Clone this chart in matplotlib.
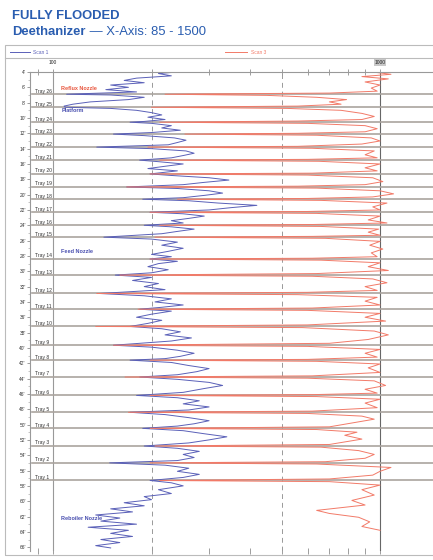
import matplotlib.pyplot as plt
from matplotlib.lines import Line2D
from matplotlib.patches import Rectangle
from matplotlib.ticker import NullFormatter

W, H = 433, 560

# elevation of each tray line (ft, from top of scan)
tray_names = ["Tray 26", "Tray 25", "Tray 24", "Tray 23", "Tray 22", "Tray 21",
              "Tray 20", "Tray 19", "Tray 18", "Tray 17", "Tray 16", "Tray 15",
              "Tray 14", "Tray 13", "Tray 12", "Tray 11", "Tray 10", "Tray 9",
              "Tray 8", "Tray 7", "Tray 6", "Tray 5", "Tray 4", "Tray 3",
              "Tray 2", "Tray 1"]
tray_ft = [6.9, 8.6, 10.55, 12.1, 13.8, 15.5, 17.3, 19.0, 20.6, 22.3, 24.0, 25.55,
           28.4, 30.5, 32.9, 34.95, 37.2, 39.65, 41.6, 43.8, 46.2, 48.4, 50.5,
           52.8, 55.0, 57.3]

depth_ticks = list(range(4, 67, 2))

# Scan 1 (blue)
scan1_ft = [4.0, 4.2, 4.5, 4.8, 5.1, 5.4, 5.7, 6.0, 6.3, 6.6, 6.85, 6.9, 7.0, 7.3,
            7.6, 7.9, 8.2, 8.45, 8.6, 8.75, 9.0, 9.3, 9.6, 9.9, 10.2, 10.45, 10.55,
            10.7, 11.0, 11.3, 11.6, 11.9, 12.1, 12.3, 12.6, 12.9, 13.2, 13.5, 13.8,
            14.0, 14.3, 14.6, 14.9, 15.2, 15.5, 15.7, 16.0, 16.3, 16.6, 16.9, 17.3,
            17.5, 17.8, 18.1, 18.4, 18.7, 19.0, 19.2, 19.5, 19.8, 20.1, 20.4, 20.6,
            20.8, 21.1, 21.4, 21.7, 22.0, 22.3, 22.5, 22.8, 23.1, 23.4, 23.7, 24.0,
            24.2, 24.5, 24.8, 25.1, 25.55, 25.8, 26.2, 26.6, 27.0, 27.4, 27.8, 28.1,
            28.4, 28.7, 29.0, 29.4, 29.8, 30.2, 30.5, 30.8, 31.2, 31.6, 32.0, 32.4,
            32.9, 33.2, 33.6, 34.0, 34.4, 34.7, 34.95, 35.2, 35.6, 36.0, 36.4, 36.8,
            37.2, 37.5, 37.9, 38.3, 38.7, 39.1, 39.65, 39.9, 40.3, 40.7, 41.1, 41.4,
            41.6, 41.9, 42.3, 42.7, 43.1, 43.5, 43.8, 44.1, 44.5, 44.9, 45.3, 45.8,
            46.2, 46.5, 46.9, 47.3, 47.7, 48.1, 48.4, 48.7, 49.1, 49.5, 49.9, 50.2,
            50.5, 50.8, 51.2, 51.6, 52.0, 52.4, 52.8, 53.1, 53.5, 53.9, 54.3, 54.7,
            55.0, 55.3, 55.7, 56.1, 56.5, 56.9, 57.3, 57.6, 58.0, 58.5, 59.0, 59.4,
            59.8, 60.2, 60.6, 61.0, 61.4, 61.8, 62.2, 62.6, 63.0, 63.4, 63.8, 64.2,
            64.6, 65.0, 65.4, 65.8, 66.1]
scan1_val = [240, 210, 230, 180, 165, 190, 150, 170, 145, 180, 120, 110, 150, 190,
             170, 130, 115, 108, 109, 150, 180, 200, 215, 195, 220, 190, 172,
             200, 230, 215, 245, 200, 153, 190, 235, 255, 240, 225, 136,
             200, 255, 270, 250, 230, 184, 210, 250, 220, 195, 240, 198,
             230, 300, 345, 290, 250, 168, 240, 300, 330, 290, 250, 188,
             260, 320, 420, 350, 300, 198, 250, 290, 260, 230, 250, 190,
             230, 270, 240, 215, 143, 200, 240, 215, 250, 225, 200, 230,
             198, 240, 210, 195, 225, 200, 155, 200, 175, 210, 190, 220,
             139, 190, 230, 205, 250, 215, 184, 230, 200, 180, 215, 195,
             172, 215, 245, 220, 265, 230, 153, 200, 240, 270, 245, 220,
             172, 230, 260, 300, 275, 240, 184, 240, 300, 330, 290, 250,
             180, 240, 280, 250, 300, 260, 172, 220, 260, 300, 270, 240,
             188, 250, 290, 340, 300, 260, 190, 240, 280, 250, 270, 240,
             149, 220, 260, 240, 280, 250, 198, 230, 250, 210, 230, 190,
             200, 165, 190, 150, 175, 135, 160, 140, 180, 128, 170, 150,
             175, 140, 160, 135, 150]

# Scan 3 (red)
scan3_ft = [4.0, 4.3, 4.6, 4.9, 5.3, 5.7, 6.1, 6.5, 6.75, 6.9, 7.05, 7.3, 7.6, 7.9,
            8.2, 8.45, 8.6, 8.75, 9.0, 9.4, 9.8, 10.2, 10.4, 10.55, 10.7, 11.0, 11.4,
            11.8, 12.0, 12.1, 12.25, 12.6, 13.0, 13.4, 13.7, 13.8, 13.95, 14.3, 14.8,
            15.2, 15.4, 15.5, 15.65, 16.0, 16.5, 16.9, 17.2, 17.3, 17.45, 17.8, 18.3,
            18.7, 18.9, 19.0, 19.15, 19.5, 19.9, 20.3, 20.5, 20.6, 20.75, 21.1, 21.6,
            22.0, 22.2, 22.3, 22.45, 22.8, 23.3, 23.7, 23.9, 24.0, 24.15, 24.5, 24.9,
            25.3, 25.45, 25.55, 25.7, 26.1, 26.6, 27.1, 27.6, 28.1, 28.3, 28.4, 28.55,
            28.9, 29.4, 29.9, 30.3, 30.5, 30.65, 31.0, 31.5, 32.0, 32.5, 32.75, 32.9,
            33.05, 33.4, 33.9, 34.4, 34.8, 34.95, 35.1, 35.5, 36.0, 36.5, 37.0, 37.2,
            37.35, 37.8, 38.3, 38.9, 39.4, 39.65, 39.8, 40.2, 40.7, 41.2, 41.5, 41.6,
            41.75, 42.1, 42.6, 43.2, 43.65, 43.8, 43.95, 44.3, 44.9, 45.4, 45.9, 46.1,
            46.2, 46.35, 46.7, 47.2, 47.8, 48.25, 48.4, 48.55, 48.9, 49.3, 49.8, 50.3,
            50.5, 50.65, 51.0, 51.4, 51.9, 52.6, 52.8, 52.95, 53.4, 53.9, 54.4, 54.85,
            55.0, 55.15, 55.6, 56.1, 56.6, 57.1, 57.3, 57.45, 57.9, 58.5, 59.2, 59.9,
            60.5, 61.2, 61.6, 62.1, 62.7, 63.3, 63.8]
scan3_val = [950, 1080, 880, 1060, 900, 1000, 940, 980, 700, 220, 450, 640, 790, 700,
             760, 560, 200, 520, 760, 880, 960, 880, 560, 212, 600, 900, 980,
             900, 560, 253, 640, 940, 1000, 880, 560, 195, 620, 960, 900,
             980, 600, 212, 650, 1000, 900, 980, 620, 198, 600, 950, 1020,
             900, 560, 168, 640, 1000, 1100, 950, 600, 240, 660, 1050, 950,
             1000, 600, 198, 640, 1000, 920, 1050, 620, 212, 660, 990, 920,
             1000, 620, 205, 680, 1000, 930, 1020, 940, 980, 620, 198, 660,
             1000, 920, 1060, 640, 160, 620, 950, 1050, 900, 980, 600, 136,
             560, 980, 900, 1000, 620, 182, 600, 1000, 900, 1040, 600, 135,
             580, 960, 1060, 920, 700, 153, 600, 1000, 900, 980, 600, 198,
             640, 1000, 920, 1000, 620, 166, 600, 960, 1040, 900, 980, 620,
             198, 640, 1000, 900, 980, 620, 170, 600, 880, 960, 820, 700,
             198, 640, 850, 780, 880, 700, 205, 660, 860, 960, 900, 680,
             198, 640, 1080, 1000, 950, 700, 212, 700, 1000, 880, 960, 820,
             900, 640, 700, 860, 930, 880, 1000]

note_text = ["Reflux Nozzle", "Platform", "Feed Nozzle", "Reboiler Nozzle"]
note_ft = [6.2, 9.0, 27.4, 62.2]
note_color = ["#e8573f", "#4a50b0", "#4a50b0", "#4a50b0"]

blue = "#5a60b8"
red = "#f27a68"
title_blue = "#2a5db0"
plt.rcParams['font.family'] = ['Liberation Sans', 'DejaVu Sans']

fig = plt.figure(figsize=(W / 100, H / 100), dpi=100)
ax = fig.add_axes([30 / W, 1 - 551 / H, (W - 30) / W, 479 / H])
ax.set_xscale('log')
ax.set_xlim(85, 1452)
ax.set_ylim(66.5, 4)

# reference lines
ax.axvline(100, color='#999999', lw=0.8)
ax.axvline(1000, color='#666666', lw=0.8)
for v in (200, 500):
    ax.axvline(v, color='#999999', lw=0.7, ls=(0, (5, 4)))

for name, ft in zip(tray_names, tray_ft):
    ax.axhline(ft, color='#aaa49e', lw=1.2, xmin=0.005)
    ax.text(88, ft - 0.4, name, fontsize=3.6, ha='left', va='center', color='#333333')

ax.plot(scan1_val, scan1_ft, color=blue, lw=0.7)
ax.plot(scan3_val, scan3_ft, color=red, lw=0.7)

for t, ft, c in zip(note_text, note_ft, note_color):
    ax.text(106, ft, t, fontsize=4, ha='left', va='center', color=c, fontweight='bold')

# axes styling
for s in ('right', 'bottom'):
    ax.spines[s].set_visible(False)
for s in ('left', 'top'):
    ax.spines[s].set_color('#999999')
    ax.spines[s].set_linewidth(0.8)

ax.set_yticks(depth_ticks, labels=[f"{d}'" for d in depth_ticks])
ax.set_yticks(range(4, 67), minor=True)
ax.tick_params(axis='y', which='major', labelsize=3.5, length=2, width=0.5,
               pad=1, colors='#777777', labelcolor='#333333')
ax.tick_params(axis='y', which='minor', length=1.2, width=0.4, colors='#999999')

ax.set_xticks([100, 1000], labels=['100', '1000'])
ax.set_xticks([90, 200, 300, 400, 500, 600, 700, 800, 900], minor=True)
ax.xaxis.set_minor_formatter(NullFormatter())
ax.tick_params(axis='x', which='both', top=True, bottom=True, labeltop=True,
               labelbottom=False, direction='inout', length=4, width=0.5,
               colors='#777777', labelsize=3.5, labelcolor='#222222', pad=3)
ax.get_xticklabels()[1].set_bbox(dict(facecolor='#c8c8c8', edgecolor='none', pad=0.6))

# frame and legend row
fig.add_artist(Rectangle((5 / W, 1 - 555 / H), 0.995, (555 - 45) / H,
                         transform=fig.transFigure, fill=False, ec='#bbbbbb', lw=0.8))
fig.add_artist(Line2D([5 / W, 1], [1 - 58 / H] * 2, transform=fig.transFigure,
                      color='#bbbbbb', lw=0.8))
fig.add_artist(Line2D([10 / W, 30 / W], [1 - 52 / H] * 2, transform=fig.transFigure,
                      color=blue, lw=0.7))
fig.text(33 / W, 1 - 52 / H, "Scan 1", fontsize=3.5, color=blue, va='center')
fig.add_artist(Line2D([225 / W, 247 / W], [1 - 52 / H] * 2, transform=fig.transFigure,
                      color=red, lw=0.7))
fig.text(251 / W, 1 - 52 / H, "Scan 3", fontsize=3.5, color=red, va='center')

# titles
fig.text(12 / W, 1 - 16 / H, "FULLY FLOODED", fontsize=9.4, fontweight='bold',
         color=title_blue, va='center')
t1 = fig.text(12 / W, 1 - 32 / H, "Deethanizer", fontsize=9.4, fontweight='bold',
              color=title_blue, va='center')
fig.canvas.draw()
bb = t1.get_window_extent()
fig.text(bb.x1 / W, 1 - 32 / H, " \u2014 X-Axis: 85 - 1500", fontsize=9.4,
         color=title_blue, va='center')

fig.savefig('out.png', dpi=100)
